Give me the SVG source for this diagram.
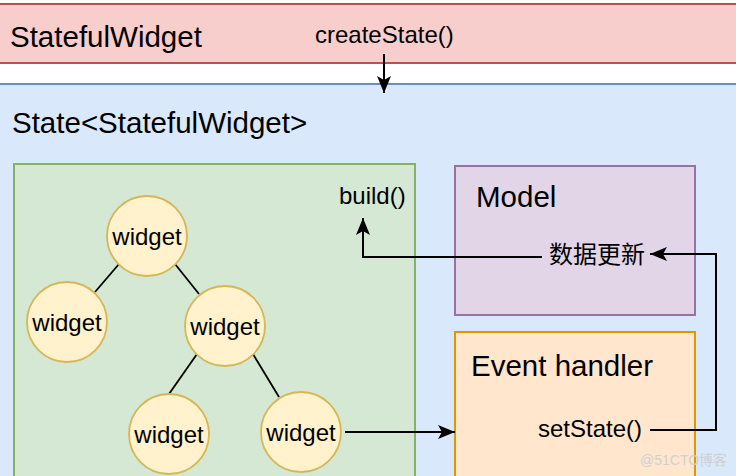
<svg xmlns="http://www.w3.org/2000/svg" width="736" height="476" viewBox="0 0 736 476">
<defs>
<style>
text{font-family:"Liberation Sans",Arial,"Noto Sans CJK SC",sans-serif;fill:#000}
.big{font-size:29.5px}
.mid{font-size:24px}
.w{font-size:24px;text-anchor:middle}
.circ{fill:#fff2cc;stroke:#d6b656;stroke-width:1.8}
.edge{fill:none;stroke:#000;stroke-width:2}
.tree{fill:none;stroke:#000;stroke-width:1.8}
</style>
<marker id="ah" markerUnits="userSpaceOnUse" markerWidth="20" markerHeight="16" viewBox="0 -8 18 16" refX="17" refY="0" orient="auto">
<path d="M0,-7 L17,0 L0,7 L4,0 Z" fill="#000"/>
</marker>
</defs>
<rect width="736" height="476" fill="#ffffff"/>
<g id="statefulwidget">
<rect x="-5" y="4" width="750" height="59" fill="#f8cecc" stroke="#b85450" stroke-width="2"/>
<text class="big" x="10" y="47">StatefulWidget</text>
<text class="mid" x="315" y="43">createState()</text>
</g>
<g id="state">
<rect x="-5" y="84" width="750" height="400" fill="#dae8fc" stroke="#6c8ebf" stroke-width="2"/>
<text class="big" x="12" y="133">State&lt;StatefulWidget&gt;</text>
</g>
<g id="build-area">
<rect x="14" y="164" width="401" height="320" fill="#d5e8d4" stroke="#82b366" stroke-width="2"/>
<text class="mid" x="339" y="204">build()</text>
</g>
<g id="model">
<rect x="455" y="166" width="240" height="149" fill="#e1d5e7" stroke="#9673a6" stroke-width="2"/>
<text class="big" x="476" y="207">Model</text>
<text class="mid" x="549" y="263">数据更新</text>
</g>
<g id="event-handler">
<rect x="455" y="332" width="240" height="152" fill="#ffe6cc" stroke="#d79b00" stroke-width="2"/>
<text class="big" x="471" y="376">Event handler</text>
<text class="mid" x="538" y="437">setState()</text>
</g>
<g id="connectors">
<line class="tree" x1="119" y1="264" x2="95" y2="292"/>
<line class="tree" x1="175" y1="264" x2="199" y2="294"/>
<line class="tree" x1="197" y1="354" x2="169" y2="394"/>
<line class="tree" x1="253" y1="354" x2="279" y2="397"/>
<line class="edge" x1="384" y1="54" x2="384" y2="93" marker-end="url(#ah)"/>
<polyline class="edge" points="542,257 363,257 363,218" marker-end="url(#ah)"/>
<line class="edge" x1="345" y1="432" x2="455" y2="432" marker-end="url(#ah)"/>
<polyline class="edge" points="650,430 716,430 716,254 650,254" marker-end="url(#ah)"/>
</g>
<g id="widget-root"><circle class="circ" cx="147" cy="236" r="40"/><text class="w" x="147" y="245">widget</text></g>
<g id="widget-left"><circle class="circ" cx="67" cy="322" r="40"/><text class="w" x="67" y="331">widget</text></g>
<g id="widget-mid"><circle class="circ" cx="225" cy="326" r="40"/><text class="w" x="225" y="335">widget</text></g>
<g id="widget-bl"><circle class="circ" cx="169" cy="434" r="40"/><text class="w" x="169" y="443">widget</text></g>
<g id="widget-br"><circle class="circ" cx="301" cy="432" r="40"/><text class="w" x="301" y="441">widget</text></g>
<text x="640" y="465" style="font-size:14px;fill:#d0d0d0">@51CTO博客</text>
</svg>
